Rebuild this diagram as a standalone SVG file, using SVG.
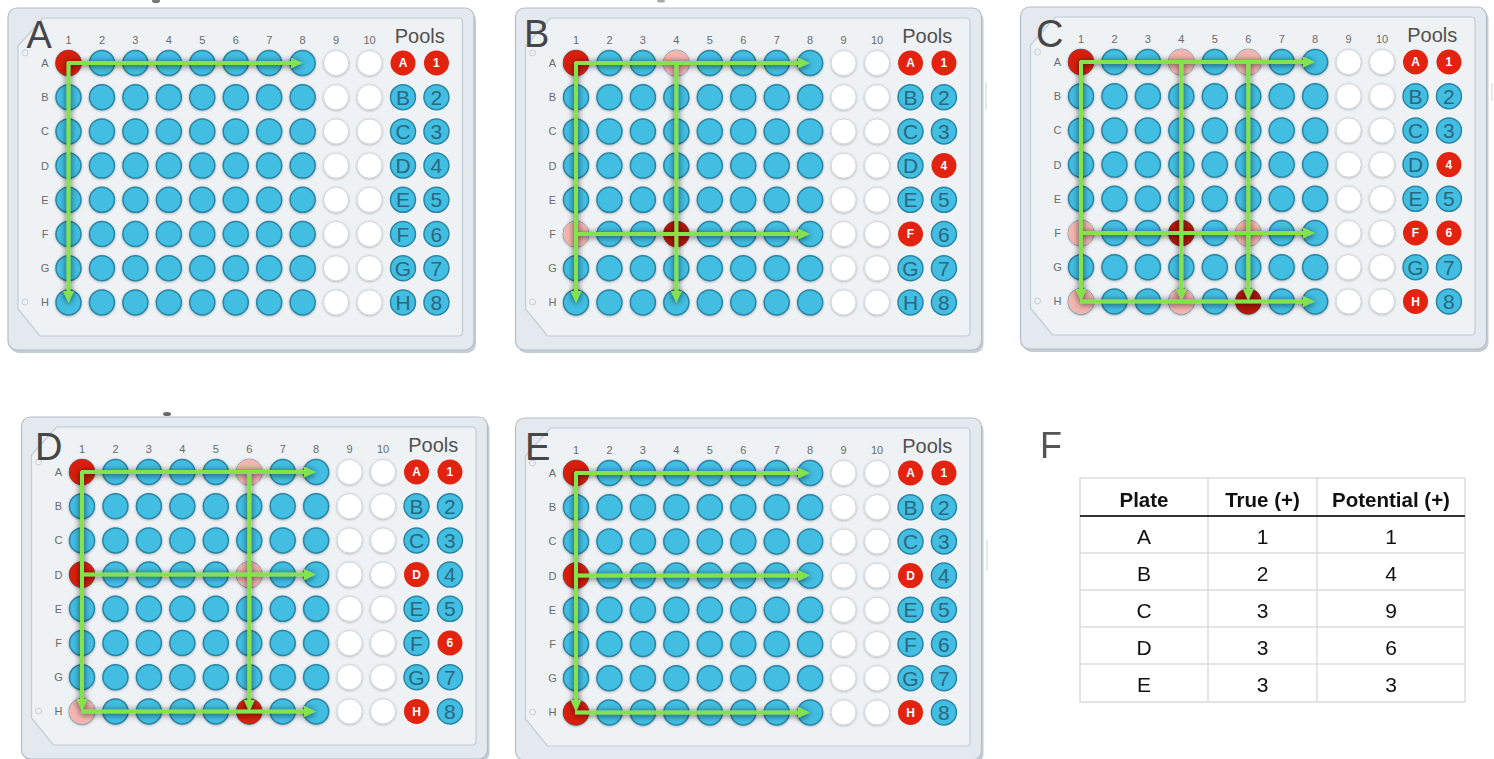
<svg xmlns="http://www.w3.org/2000/svg" width="1494" height="759" viewBox="0 0 1494 759">
<style>
text{font-family:"Liberation Sans",Arial,Helvetica,sans-serif}
.shadow{fill:#c5cdd4}
.outer{fill:#e3e9ee;stroke:#b4bec6;stroke-width:1.2}
.inner{fill:#eef2f5;stroke:#c2ccd4;stroke-width:1.2}
.hole{fill:none;stroke:#c6ced5;stroke-width:1}
.cl{font-size:11px;fill:#6a6a6a;text-anchor:middle}
.big{font-size:38px;fill:#464646}
.pools{font-size:20px;fill:#505050;text-anchor:middle}
.w{fill:#42bee2;stroke:#2a85a5;stroke-width:1.5}
.wh{fill:#ffffff;stroke:#d0d7dd;stroke-width:1}
.red{fill:#d81f0c}
.dred{fill:#b6170a}
.pink{fill:#f3b5af}
.pr{fill:#e2230f}
.tb{font-size:21px;fill:#2a6880;text-anchor:middle}
.tr{font-size:12px;font-weight:bold;fill:#ffffff;text-anchor:middle}
.arr{fill:none;stroke:#84e24e;stroke-width:4;marker-end:url(#ah)}
.tl{stroke:#dcdcdc;stroke-width:1.5}
.th{font-size:20.5px;font-weight:bold;fill:#111;text-anchor:middle}
.td{font-size:21px;fill:#111;text-anchor:middle}
</style>
<defs>
<marker id="ah" markerUnits="userSpaceOnUse" markerWidth="13" markerHeight="11" viewBox="0 0 13 11" refX="1" refY="5.5" orient="auto">
<path d="M0,0 L12,5.5 L0,11 Z" fill="#84e24e"/>
</marker>
<filter id="ls" filterUnits="userSpaceOnUse" x="0" y="0" width="1494" height="759">
<feDropShadow dx="0" dy="1" stdDeviation="3" flood-color="#000" flood-opacity="0.7"/>
</filter>
<filter id="ws" x="-5%" y="-5%" width="110%" height="110%">
<feDropShadow dx="0" dy="0.6" stdDeviation="1" flood-color="#000" flood-opacity="0.3"/>
</filter>
<g id="body">
<rect class="shadow" x="-58.5" y="-52" width="466" height="342" rx="9"/>
<rect class="outer" x="-60.5" y="-55" width="466" height="342" rx="9"/>
<path class="inner" d="M-25.5,-45 H390 Q394,-45 394,-41 V269 Q394,273 390,273 H-28.5 L-50.5,246 V-17 Z"/>
<circle class="hole" cx="-43.5" cy="-10" r="3"/>
<circle class="hole" cx="-43.5" cy="239" r="3"/>
</g>
<g id="wr">
<circle class="w" cx="0" r="12.5"/><circle class="w" cx="33.45" r="12.5"/><circle class="w" cx="66.9" r="12.5"/><circle class="w" cx="100.35" r="12.5"/><circle class="w" cx="133.8" r="12.5"/><circle class="w" cx="167.25" r="12.5"/><circle class="w" cx="200.7" r="12.5"/><circle class="w" cx="234.15" r="12.5"/><circle class="wh" cx="267.6" r="12.5"/><circle class="wh" cx="301.05" r="12.5"/>
</g>
<g id="grid" filter="url(#ws)">
<use href="#wr"/><use href="#wr" y="34.2"/><use href="#wr" y="68.4"/><use href="#wr" y="102.6"/><use href="#wr" y="136.8"/><use href="#wr" y="171"/><use href="#wr" y="205.2"/><use href="#wr" y="239.4"/>
</g>
</defs>
<rect width="1494" height="759" fill="#ffffff"/>
<ellipse cx="156" cy="1" rx="4" ry="2" fill="#777"/>
<ellipse cx="661" cy="1" rx="4" ry="1.5" fill="#aaa"/>
<ellipse cx="167" cy="414" rx="4" ry="2" fill="#666"/>
<rect x="985" y="82" width="2" height="28" fill="#e8e8e8"/>
<rect x="986" y="540" width="2" height="30" fill="#e8e8e8"/>
<rect x="1491" y="83" width="2" height="18" fill="#e8e8e8"/>

<g id="plateA" transform="translate(68.5,63)">
<use href="#body"/>
<text class="big" x="-42" y="-15">A</text>
<g class="cl">
<text x="0" y="-19.5">1</text><text x="33.45" y="-19.5">2</text><text x="66.9" y="-19.5">3</text><text x="100.35" y="-19.5">4</text><text x="133.8" y="-19.5">5</text><text x="167.25" y="-19.5">6</text><text x="200.7" y="-19.5">7</text><text x="234.15" y="-19.5">8</text><text x="267.6" y="-19.5">9</text><text x="301.05" y="-19.5">10</text>
<text x="-23.5" y="4">A</text><text x="-23.5" y="38.2">B</text><text x="-23.5" y="72.4">C</text><text x="-23.5" y="106.6">D</text><text x="-23.5" y="140.8">E</text><text x="-23.5" y="175">F</text><text x="-23.5" y="209.2">G</text><text x="-23.5" y="243.4">H</text>
</g>
<text class="pools" x="351.2" y="-20">Pools</text>
<use href="#grid"/>
<circle class="red" cx="0" cy="0" r="13"/>
<circle class="pr" cx="334.5" cy="0" r="12.5"/><text class="tr" x="334.5" y="4.3">A</text>
<circle class="pr" cx="367.95" cy="0" r="12.5"/><text class="tr" x="367.95" y="4.3">1</text>
<circle class="w" cx="334.5" cy="34.2" r="12.5"/><text class="tb" x="334.5" y="41.7">B</text>
<circle class="w" cx="367.95" cy="34.2" r="12.5"/><text class="tb" x="367.95" y="41.7">2</text>
<circle class="w" cx="334.5" cy="68.4" r="12.5"/><text class="tb" x="334.5" y="75.9">C</text>
<circle class="w" cx="367.95" cy="68.4" r="12.5"/><text class="tb" x="367.95" y="75.9">3</text>
<circle class="w" cx="334.5" cy="102.6" r="12.5"/><text class="tb" x="334.5" y="110.1">D</text>
<circle class="w" cx="367.95" cy="102.6" r="12.5"/><text class="tb" x="367.95" y="110.1">4</text>
<circle class="w" cx="334.5" cy="136.8" r="12.5"/><text class="tb" x="334.5" y="144.3">E</text>
<circle class="w" cx="367.95" cy="136.8" r="12.5"/><text class="tb" x="367.95" y="144.3">5</text>
<circle class="w" cx="334.5" cy="171" r="12.5"/><text class="tb" x="334.5" y="178.5">F</text>
<circle class="w" cx="367.95" cy="171" r="12.5"/><text class="tb" x="367.95" y="178.5">6</text>
<circle class="w" cx="334.5" cy="205.2" r="12.5"/><text class="tb" x="334.5" y="212.7">G</text>
<circle class="w" cx="367.95" cy="205.2" r="12.5"/><text class="tb" x="367.95" y="212.7">7</text>
<circle class="w" cx="334.5" cy="239.4" r="12.5"/><text class="tb" x="334.5" y="246.9">H</text>
<circle class="w" cx="367.95" cy="239.4" r="12.5"/><text class="tb" x="367.95" y="246.9">8</text>
</g>

<g id="plateB" transform="translate(576,63)">
<use href="#body"/>
<text class="big" x="-52" y="-16">B</text>
<g class="cl">
<text x="0" y="-19.5">1</text><text x="33.45" y="-19.5">2</text><text x="66.9" y="-19.5">3</text><text x="100.35" y="-19.5">4</text><text x="133.8" y="-19.5">5</text><text x="167.25" y="-19.5">6</text><text x="200.7" y="-19.5">7</text><text x="234.15" y="-19.5">8</text><text x="267.6" y="-19.5">9</text><text x="301.05" y="-19.5">10</text>
<text x="-23.5" y="4">A</text><text x="-23.5" y="38.2">B</text><text x="-23.5" y="72.4">C</text><text x="-23.5" y="106.6">D</text><text x="-23.5" y="140.8">E</text><text x="-23.5" y="175">F</text><text x="-23.5" y="209.2">G</text><text x="-23.5" y="243.4">H</text>
</g>
<text class="pools" x="351.2" y="-20">Pools</text>
<use href="#grid"/>
<circle class="red" cx="0" cy="0" r="13"/>
<circle class="pink" cx="100.35" cy="0" r="13"/>
<circle class="pink" cx="0" cy="171" r="13"/>
<circle class="dred" cx="100.35" cy="171" r="13"/>
<circle class="pr" cx="334.5" cy="0" r="12.5"/><text class="tr" x="334.5" y="4.3">A</text>
<circle class="pr" cx="367.95" cy="0" r="12.5"/><text class="tr" x="367.95" y="4.3">1</text>
<circle class="w" cx="334.5" cy="34.2" r="12.5"/><text class="tb" x="334.5" y="41.7">B</text>
<circle class="w" cx="367.95" cy="34.2" r="12.5"/><text class="tb" x="367.95" y="41.7">2</text>
<circle class="w" cx="334.5" cy="68.4" r="12.5"/><text class="tb" x="334.5" y="75.9">C</text>
<circle class="w" cx="367.95" cy="68.4" r="12.5"/><text class="tb" x="367.95" y="75.9">3</text>
<circle class="w" cx="334.5" cy="102.6" r="12.5"/><text class="tb" x="334.5" y="110.1">D</text>
<circle class="pr" cx="367.95" cy="102.6" r="12.5"/><text class="tr" x="367.95" y="106.9">4</text>
<circle class="w" cx="334.5" cy="136.8" r="12.5"/><text class="tb" x="334.5" y="144.3">E</text>
<circle class="w" cx="367.95" cy="136.8" r="12.5"/><text class="tb" x="367.95" y="144.3">5</text>
<circle class="pr" cx="334.5" cy="171" r="12.5"/><text class="tr" x="334.5" y="175.3">F</text>
<circle class="w" cx="367.95" cy="171" r="12.5"/><text class="tb" x="367.95" y="178.5">6</text>
<circle class="w" cx="334.5" cy="205.2" r="12.5"/><text class="tb" x="334.5" y="212.7">G</text>
<circle class="w" cx="367.95" cy="205.2" r="12.5"/><text class="tb" x="367.95" y="212.7">7</text>
<circle class="w" cx="334.5" cy="239.4" r="12.5"/><text class="tb" x="334.5" y="246.9">H</text>
<circle class="w" cx="367.95" cy="239.4" r="12.5"/><text class="tb" x="367.95" y="246.9">8</text>
</g>

<g id="plateC" transform="translate(1081,62)">
<use href="#body"/>
<text class="big" x="-45" y="-15">C</text>
<g class="cl">
<text x="0" y="-19.5">1</text><text x="33.45" y="-19.5">2</text><text x="66.9" y="-19.5">3</text><text x="100.35" y="-19.5">4</text><text x="133.8" y="-19.5">5</text><text x="167.25" y="-19.5">6</text><text x="200.7" y="-19.5">7</text><text x="234.15" y="-19.5">8</text><text x="267.6" y="-19.5">9</text><text x="301.05" y="-19.5">10</text>
<text x="-23.5" y="4">A</text><text x="-23.5" y="38.2">B</text><text x="-23.5" y="72.4">C</text><text x="-23.5" y="106.6">D</text><text x="-23.5" y="140.8">E</text><text x="-23.5" y="175">F</text><text x="-23.5" y="209.2">G</text><text x="-23.5" y="243.4">H</text>
</g>
<text class="pools" x="351.2" y="-20">Pools</text>
<use href="#grid"/>
<circle class="red" cx="0" cy="0" r="13"/>
<circle class="pink" cx="100.35" cy="0" r="13"/>
<circle class="pink" cx="167.25" cy="0" r="13"/>
<circle class="pink" cx="0" cy="171" r="13"/>
<circle class="dred" cx="100.35" cy="171" r="13"/>
<circle class="pink" cx="167.25" cy="171" r="13"/>
<circle class="pink" cx="0" cy="239.4" r="13"/>
<circle class="pink" cx="100.35" cy="239.4" r="13"/>
<circle class="dred" cx="167.25" cy="239.4" r="13"/>
<circle class="pr" cx="334.5" cy="0" r="12.5"/><text class="tr" x="334.5" y="4.3">A</text>
<circle class="pr" cx="367.95" cy="0" r="12.5"/><text class="tr" x="367.95" y="4.3">1</text>
<circle class="w" cx="334.5" cy="34.2" r="12.5"/><text class="tb" x="334.5" y="41.7">B</text>
<circle class="w" cx="367.95" cy="34.2" r="12.5"/><text class="tb" x="367.95" y="41.7">2</text>
<circle class="w" cx="334.5" cy="68.4" r="12.5"/><text class="tb" x="334.5" y="75.9">C</text>
<circle class="w" cx="367.95" cy="68.4" r="12.5"/><text class="tb" x="367.95" y="75.9">3</text>
<circle class="w" cx="334.5" cy="102.6" r="12.5"/><text class="tb" x="334.5" y="110.1">D</text>
<circle class="pr" cx="367.95" cy="102.6" r="12.5"/><text class="tr" x="367.95" y="106.9">4</text>
<circle class="w" cx="334.5" cy="136.8" r="12.5"/><text class="tb" x="334.5" y="144.3">E</text>
<circle class="w" cx="367.95" cy="136.8" r="12.5"/><text class="tb" x="367.95" y="144.3">5</text>
<circle class="pr" cx="334.5" cy="171" r="12.5"/><text class="tr" x="334.5" y="175.3">F</text>
<circle class="pr" cx="367.95" cy="171" r="12.5"/><text class="tr" x="367.95" y="175.3">6</text>
<circle class="w" cx="334.5" cy="205.2" r="12.5"/><text class="tb" x="334.5" y="212.7">G</text>
<circle class="w" cx="367.95" cy="205.2" r="12.5"/><text class="tb" x="367.95" y="212.7">7</text>
<circle class="pr" cx="334.5" cy="239.4" r="12.5"/><text class="tr" x="334.5" y="243.7">H</text>
<circle class="w" cx="367.95" cy="239.4" r="12.5"/><text class="tb" x="367.95" y="246.9">8</text>
</g>

<g id="plateD" transform="translate(82,472)">
<use href="#body"/>
<text class="big" x="-47" y="-12">D</text>
<g class="cl">
<text x="0" y="-19.5">1</text><text x="33.45" y="-19.5">2</text><text x="66.9" y="-19.5">3</text><text x="100.35" y="-19.5">4</text><text x="133.8" y="-19.5">5</text><text x="167.25" y="-19.5">6</text><text x="200.7" y="-19.5">7</text><text x="234.15" y="-19.5">8</text><text x="267.6" y="-19.5">9</text><text x="301.05" y="-19.5">10</text>
<text x="-23.5" y="4">A</text><text x="-23.5" y="38.2">B</text><text x="-23.5" y="72.4">C</text><text x="-23.5" y="106.6">D</text><text x="-23.5" y="140.8">E</text><text x="-23.5" y="175">F</text><text x="-23.5" y="209.2">G</text><text x="-23.5" y="243.4">H</text>
</g>
<text class="pools" x="351.2" y="-20">Pools</text>
<use href="#grid"/>
<circle class="red" cx="0" cy="0" r="13"/>
<circle class="pink" cx="167.25" cy="0" r="13"/>
<circle class="red" cx="0" cy="102.6" r="13"/>
<circle class="pink" cx="167.25" cy="102.6" r="13"/>
<circle class="pink" cx="0" cy="239.4" r="13"/>
<circle class="red" cx="167.25" cy="239.4" r="13"/>
<circle class="pr" cx="334.5" cy="0" r="12.5"/><text class="tr" x="334.5" y="4.3">A</text>
<circle class="pr" cx="367.95" cy="0" r="12.5"/><text class="tr" x="367.95" y="4.3">1</text>
<circle class="w" cx="334.5" cy="34.2" r="12.5"/><text class="tb" x="334.5" y="41.7">B</text>
<circle class="w" cx="367.95" cy="34.2" r="12.5"/><text class="tb" x="367.95" y="41.7">2</text>
<circle class="w" cx="334.5" cy="68.4" r="12.5"/><text class="tb" x="334.5" y="75.9">C</text>
<circle class="w" cx="367.95" cy="68.4" r="12.5"/><text class="tb" x="367.95" y="75.9">3</text>
<circle class="pr" cx="334.5" cy="102.6" r="12.5"/><text class="tr" x="334.5" y="106.9">D</text>
<circle class="w" cx="367.95" cy="102.6" r="12.5"/><text class="tb" x="367.95" y="110.1">4</text>
<circle class="w" cx="334.5" cy="136.8" r="12.5"/><text class="tb" x="334.5" y="144.3">E</text>
<circle class="w" cx="367.95" cy="136.8" r="12.5"/><text class="tb" x="367.95" y="144.3">5</text>
<circle class="w" cx="334.5" cy="171" r="12.5"/><text class="tb" x="334.5" y="178.5">F</text>
<circle class="pr" cx="367.95" cy="171" r="12.5"/><text class="tr" x="367.95" y="175.3">6</text>
<circle class="w" cx="334.5" cy="205.2" r="12.5"/><text class="tb" x="334.5" y="212.7">G</text>
<circle class="w" cx="367.95" cy="205.2" r="12.5"/><text class="tb" x="367.95" y="212.7">7</text>
<circle class="pr" cx="334.5" cy="239.4" r="12.5"/><text class="tr" x="334.5" y="243.7">H</text>
<circle class="w" cx="367.95" cy="239.4" r="12.5"/><text class="tb" x="367.95" y="246.9">8</text>
</g>

<g id="plateE" transform="translate(576,473)">
<use href="#body"/>
<text class="big" x="-51" y="-13">E</text>
<g class="cl">
<text x="0" y="-19.5">1</text><text x="33.45" y="-19.5">2</text><text x="66.9" y="-19.5">3</text><text x="100.35" y="-19.5">4</text><text x="133.8" y="-19.5">5</text><text x="167.25" y="-19.5">6</text><text x="200.7" y="-19.5">7</text><text x="234.15" y="-19.5">8</text><text x="267.6" y="-19.5">9</text><text x="301.05" y="-19.5">10</text>
<text x="-23.5" y="4">A</text><text x="-23.5" y="38.2">B</text><text x="-23.5" y="72.4">C</text><text x="-23.5" y="106.6">D</text><text x="-23.5" y="140.8">E</text><text x="-23.5" y="175">F</text><text x="-23.5" y="209.2">G</text><text x="-23.5" y="243.4">H</text>
</g>
<text class="pools" x="351.2" y="-20">Pools</text>
<use href="#grid"/>
<circle class="red" cx="0" cy="0" r="13"/>
<circle class="red" cx="0" cy="102.6" r="13"/>
<circle class="red" cx="0" cy="239.4" r="13"/>
<circle class="pr" cx="334.5" cy="0" r="12.5"/><text class="tr" x="334.5" y="4.3">A</text>
<circle class="pr" cx="367.95" cy="0" r="12.5"/><text class="tr" x="367.95" y="4.3">1</text>
<circle class="w" cx="334.5" cy="34.2" r="12.5"/><text class="tb" x="334.5" y="41.7">B</text>
<circle class="w" cx="367.95" cy="34.2" r="12.5"/><text class="tb" x="367.95" y="41.7">2</text>
<circle class="w" cx="334.5" cy="68.4" r="12.5"/><text class="tb" x="334.5" y="75.9">C</text>
<circle class="w" cx="367.95" cy="68.4" r="12.5"/><text class="tb" x="367.95" y="75.9">3</text>
<circle class="pr" cx="334.5" cy="102.6" r="12.5"/><text class="tr" x="334.5" y="106.9">D</text>
<circle class="w" cx="367.95" cy="102.6" r="12.5"/><text class="tb" x="367.95" y="110.1">4</text>
<circle class="w" cx="334.5" cy="136.8" r="12.5"/><text class="tb" x="334.5" y="144.3">E</text>
<circle class="w" cx="367.95" cy="136.8" r="12.5"/><text class="tb" x="367.95" y="144.3">5</text>
<circle class="w" cx="334.5" cy="171" r="12.5"/><text class="tb" x="334.5" y="178.5">F</text>
<circle class="w" cx="367.95" cy="171" r="12.5"/><text class="tb" x="367.95" y="178.5">6</text>
<circle class="w" cx="334.5" cy="205.2" r="12.5"/><text class="tb" x="334.5" y="212.7">G</text>
<circle class="w" cx="367.95" cy="205.2" r="12.5"/><text class="tb" x="367.95" y="212.7">7</text>
<circle class="pr" cx="334.5" cy="239.4" r="12.5"/><text class="tr" x="334.5" y="243.7">H</text>
<circle class="w" cx="367.95" cy="239.4" r="12.5"/><text class="tb" x="367.95" y="246.9">8</text>
</g>

<g id="connectors" filter="url(#ls)">
<g transform="translate(68.5,63)">
<path class="arr" d="M-1,0 H223"/>
<path class="arr" d="M0,-1 V229"/>
</g>
<g transform="translate(576,63)">
<path class="arr" d="M-1,0 H223"/>
<path class="arr" d="M-1,171 H223"/>
<path class="arr" d="M0,-1 V229"/>
<path class="arr" d="M100.35,0 V229"/>
</g>
<g transform="translate(1081,62)">
<path class="arr" d="M-1,0 H223"/>
<path class="arr" d="M-1,171 H223"/>
<path class="arr" d="M-1,239.4 H223"/>
<path class="arr" d="M0,-1 V228"/>
<path class="arr" d="M100.35,0 V228"/>
<path class="arr" d="M167.25,0 V228"/>
</g>
<g transform="translate(82,472)">
<path class="arr" d="M-1,0 H223"/>
<path class="arr" d="M-1,102.6 H223"/>
<path class="arr" d="M-1,239.4 H223"/>
<path class="arr" d="M0,-1 V228"/>
<path class="arr" d="M167.25,0 V229"/>
</g>
<g transform="translate(576,473)">
<path class="arr" d="M-1,0 H223"/>
<path class="arr" d="M-1,102.6 H223"/>
<path class="arr" d="M-1,239.4 H223"/>
<path class="arr" d="M0,-1 V228"/>
</g>
</g>

<g id="tableF">
<text x="1040" y="458" font-size="36" fill="#555">F</text>
<rect x="1080" y="478" width="385" height="224" fill="#ffffff" stroke="#dcdcdc" stroke-width="1.5"/>
<line class="tl" x1="1208" y1="478" x2="1208" y2="702"/>
<line class="tl" x1="1317" y1="478" x2="1317" y2="702"/>
<line class="tl" x1="1080" y1="553" x2="1465" y2="553"/>
<line class="tl" x1="1080" y1="590" x2="1465" y2="590"/>
<line class="tl" x1="1080" y1="627" x2="1465" y2="627"/>
<line class="tl" x1="1080" y1="664" x2="1465" y2="664"/>
<line x1="1080" y1="516" x2="1465" y2="516" stroke="#333" stroke-width="2"/>
<text class="th" x="1144" y="507">Plate</text>
<text class="th" x="1262.5" y="507">True (+)</text>
<text class="th" x="1391" y="507">Potential (+)</text>
<text class="td" x="1144" y="543.5">A</text><text class="td" x="1262.5" y="543.5">1</text><text class="td" x="1391" y="543.5">1</text>
<text class="td" x="1144" y="580.5">B</text><text class="td" x="1262.5" y="580.5">2</text><text class="td" x="1391" y="580.5">4</text>
<text class="td" x="1144" y="617.5">C</text><text class="td" x="1262.5" y="617.5">3</text><text class="td" x="1391" y="617.5">9</text>
<text class="td" x="1144" y="654.5">D</text><text class="td" x="1262.5" y="654.5">3</text><text class="td" x="1391" y="654.5">6</text>
<text class="td" x="1144" y="691.5">E</text><text class="td" x="1262.5" y="691.5">3</text><text class="td" x="1391" y="691.5">3</text>
</g>
</svg>
